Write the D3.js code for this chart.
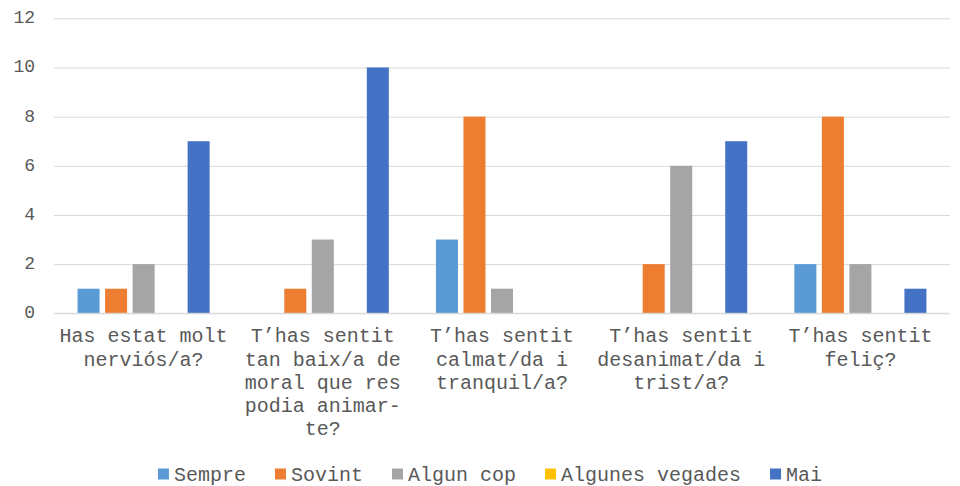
<!DOCTYPE html>
<html>
<head>
<meta charset="utf-8">
<script src="https://cdn.jsdelivr.net/npm/d3@7"></script>
<style>
  html, body { margin: 0; padding: 0; background: #fff; }
  svg { display: block; }
  text { font-family: "Liberation Mono", "Courier New", monospace; fill: #595959; }
</style>
</head>
<body>
<svg id="chart" width="960" height="486"></svg>
<script>
// Survey answers per question
const categories = [
  "Has estat molt nerviós/a?",
  "T’has sentit tan baix/a de moral que res podia animar-te?",
  "T’has sentit calmat/da i tranquil/a?",
  "T’has sentit desanimat/da i trist/a?",
  "T’has sentit feliç?"
];
const seriesNames = ["Sempre", "Sovint", "Algun cop", "Algunes vegades", "Mai"];
const sempre         = [1, 0, 3, 0, 2];
const sovint         = [1, 1, 8, 2, 8];
const algunCop       = [2, 3, 1, 6, 2];
const algunesVegades = [0, 0, 0, 0, 0];
const mai            = [7, 10, 0, 7, 1];
const yTicks = [0, 2, 4, 6, 8, 10, 12];

const seriesValues = [sempre, sovint, algunCop, algunesVegades, mai];
const colors = ["#5B9BD5", "#ED7D31", "#A5A5A5", "#FFC000", "#4472C4"];

const svg = d3.select("#chart");
const plotLeft = 54, plotRight = 950, plotTop = 18.3, plotBottom = 313.3;

const x0 = d3.scaleBand().domain(categories).range([plotLeft, plotRight])
  .paddingInner(0.263).paddingOuter(0.1315);
const x1 = d3.scaleBand().domain(seriesNames).range([0, x0.bandwidth()])
  .paddingInner(0.2);
const y = d3.scaleLinear().domain([0, 12]).range([plotBottom, plotTop]);

// Horizontal gridlines
const yAxis = d3.axisLeft(y).tickValues(yTicks).tickSize(-(plotRight - plotLeft)).tickPadding(19);
const gy = svg.append("g").attr("transform", `translate(${plotLeft},0)`).call(yAxis);
gy.select(".domain").remove();
gy.selectAll(".tick line").attr("stroke", "#D9D9D9").attr("stroke-width", 1);
gy.selectAll(".tick text")
  .style("font-family", '"Liberation Mono", "Courier New", monospace')
  .style("font-size", "18px").attr("fill", "#666666").attr("dy", "0.25em");

// Bars
const groups = svg.append("g").selectAll("g")
  .data(categories).join("g")
  .attr("transform", d => `translate(${x0(d)},0)`);
groups.selectAll("rect")
  .data((c, i) => seriesNames.map((s, j) => ({ s, v: seriesValues[j][i], color: colors[j] })))
  .join("rect")
  .filter(d => d.v > 0)
  .attr("x", d => x1(d.s))
  .attr("width", x1.bandwidth())
  .attr("y", d => y(d.v))
  .attr("height", d => y(0) - y(d.v))
  .attr("fill", d => d.color);

// Baseline
svg.append("line").attr("x1", plotLeft).attr("x2", plotRight)
  .attr("y1", y(0)).attr("y2", y(0)).attr("stroke", "#D9D9D9").attr("stroke-width", 1);

// Category labels, wrapped at 14 characters
function wrap(label, maxChars) {
  const tokens = [];
  label.split(" ").forEach(w => {
    const parts = w.split(/(?<=-)/);
    parts.forEach((p, k) => tokens.push({ t: p, space: k === 0 }));
  });
  const lines = [];
  let cur = "";
  tokens.forEach(tok => {
    const cand = cur === "" ? tok.t : cur + (tok.space ? " " : "") + tok.t;
    if (cand.length > maxChars && cur !== "") { lines.push(cur); cur = tok.t; }
    else cur = cand;
  });
  if (cur) lines.push(cur);
  return lines;
}
const xAxis = d3.axisBottom(x0).tickSize(0).tickFormat("");
const gx = svg.append("g").attr("transform", `translate(0,${plotBottom})`).call(xAxis);
gx.select(".domain").remove();
gx.selectAll(".tick").each(function(d) {
  const t = d3.select(this).append("text")
    .attr("text-anchor", "middle")
    .attr("y", 29)
    .attr("fill", "#666666")
    .style("font-size", "20px");
  wrap(d, 14).forEach((line, i) => {
    t.append("tspan").attr("x", 0).attr("dy", i === 0 ? 0 : 23.3).text(line);
  });
});

// Legend
const legend = svg.append("g");
let lx = 0;
seriesNames.forEach((name, i) => {
  const g = legend.append("g").attr("transform", `translate(${lx},0)`);
  g.append("rect").attr("x", 0).attr("y", -5.5).attr("width", 11).attr("height", 11).attr("fill", colors[i]);
  const t = g.append("text").attr("x", 16).attr("y", 0).attr("dy", "0.35em")
    .attr("fill", "#666666")
    .style("font-size", "20px").text(name);
  lx += 16 + t.node().getComputedTextLength() + 29;
});
const legendWidth = lx - 29;
legend.attr("transform", `translate(${490 - legendWidth / 2},474)`);
</script>
</body>
</html>
